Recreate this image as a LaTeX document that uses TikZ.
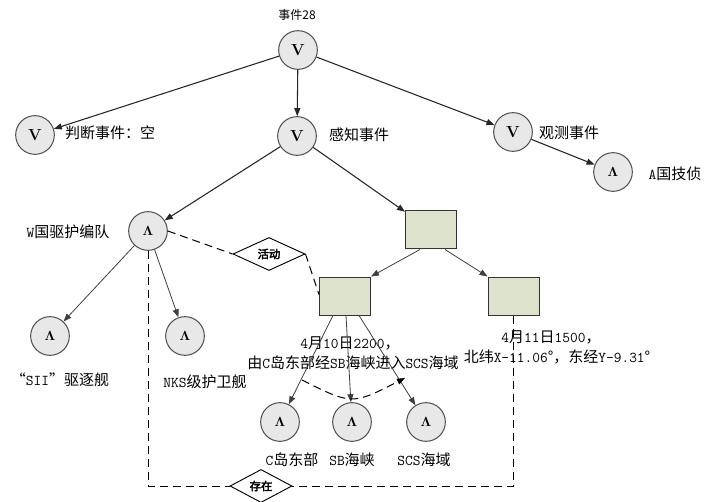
\documentclass[tikz,border=0pt]{standalone}
\usepackage[no-math]{fontspec}
\setmainfont{Noto Sans CJK SC}
\newfontfamily\cjkb[FakeBold=3]{Noto Sans CJK SC}
\usetikzlibrary{arrows.meta,shapes.geometric,calc}
\newcommand{\lt}[1]{{\ttfamily #1}}
\definecolor{boxfill}{HTML}{DDE2CC}
\definecolor{evfill}{HTML}{E8E8E8}
\begin{document}
\begin{tikzpicture}[x=0.75pt,y=-0.75pt,
  font=\fontsize{11.25}{13}\selectfont,
  evt/.style={circle, draw=black!70, fill=evfill, minimum size=29pt, inner sep=0pt, line width=0.75pt},
  box/.style={rectangle, draw=black!80, fill=boxfill, minimum width=38.25pt, minimum height=28.5pt, inner sep=0pt, line width=0.75pt},
  rel/.style={diamond, draw=black, fill=white, inner sep=0pt, line width=0.7pt, font=\cjkb\fontsize{8.5}{9}\selectfont},
  arr/.style={-{Triangle[length=6pt,width=4.5pt]}, draw=black!85, line width=0.8pt},
  thinarr/.style={-{Triangle[length=6pt,width=4.5pt]}, draw=black!75, line width=0.6pt},
  dsh/.style={dash pattern=on 6pt off 3.75pt, draw=black, line width=0.75pt},
  lbl/.style={inner sep=0pt},
  vv/.style={font=\fontsize{13}{13}\selectfont},
  ll/.style={font=\fontsize{10}{10}\selectfont}]
\fill[white] (0,0) rectangle (717,502);
\useasboundingbox (0,0) rectangle (717,502);

% event nodes
\node[evt,vv] (top) at (298,50) {$\mathbf{V}$};
\node[evt,vv] (v1) at (35,135) {$\mathbf{V}$};
\node[evt,vv] (v2) at (297,136) {$\mathbf{V}$};
\node[evt,vv] (v3) at (513,132) {$\mathbf{V}$};
\node[evt,ll] (a) at (613,172) {$\mathbf{\Lambda}$};
\node[evt,ll] (w) at (148,231) {$\mathbf{\Lambda}$};
\node[evt,ll] (sii) at (50,336) {$\mathbf{\Lambda}$};
\node[evt,ll] (nks) at (185,336) {$\mathbf{\Lambda}$};
\node[evt,ll] (cd) at (280,422) {$\mathbf{\Lambda}$};
\node[evt,ll] (sb) at (352,422) {$\mathbf{\Lambda}$};
\node[evt,ll] (scs) at (426,422) {$\mathbf{\Lambda}$};

% boxes
\node[box] (r1) at (431,230) {};
\node[box] (r2) at (345,296) {};
\node[box] (r3) at (513.5,296) {};

% relation diamonds
\node[rel, minimum width=54pt, minimum height=23.25pt] (act) at (269,254) {活动};
\node[rel, minimum width=46.5pt, minimum height=21pt] (ex) at (261,486) {存在};

% labels
\node[lbl] (l28) at (297,15) {\fontsize{9}{10}\selectfont 事件28};
\node[lbl] (l1) at (110,133) {判断事件：空};
\node[lbl] (l2) at (359,135) {感知事件};
\node[lbl] (l3) at (569,133) {观测事件};
\node[lbl] (la) at (675,174) {\lt{A}国技侦};
\node[lbl] (lw) at (68,232) {\lt{W}国驱护编队};
\node[lbl] (lsii) at (60,380) {“\lt{SII}”驱逐舰};
\node[lbl] (lnks) at (205,382) {\lt{NKS}级护卫舰};
\node[lbl] (t1) at (350,343) {\lt{4}月\lt{10}日\lt{2200}，};
\node[lbl] (t2) at (353,363) {由\lt{C}岛东部经\lt{SB}海峡进入\lt{SCS}海域};
\node[lbl] (t3) at (551,337) {\lt{4}月\lt{11}日\lt{1500}，};
\node[lbl] (t4) at (557,357) {北纬\lt{X-11.06}°，东经\lt{Y-9.31}°};
\node[lbl] (lcd) at (292,460) {\lt{C}岛东部};
\node[lbl] (lsb) at (352,460) {\lt{SB}海峡};
\node[lbl] (lscs) at (424,460) {\lt{SCS}海域};

% solid connectors
\draw[arr] (top) -- (v1);
\draw[arr] (top) -- (v2);
\draw[arr] (top) -- (v3);
\draw[arr] (v3) -- (a);
\draw[arr] (v2) -- (w);
\draw[arr] (v2) -- (r1);
\draw[thinarr] ($(r1.south)+(-11,0)$) -- (r2.north east);
\draw[thinarr] ($(r1.south)+(14,0)$) -- (r3.north west);
\draw[thinarr] (w) -- (sii);
\draw[thinarr] (w) -- (nks);
\draw[thinarr] ($(r2.south west)+(14,0)$) -- (cd);
\draw[thinarr] ($(r2.south west)+(27,0)$) -- (sb);
\draw[thinarr] ($(r2.south west)+(40,0)$) -- (scs);

% dashed connectors
\draw[dsh] (w.east) -- (act.west);
\draw[dsh] (act.east) -- ($(r2.north west)+(0,18)$);
\draw[dsh] (w.south) |- (ex.west);
\draw[dsh] (r3.south) |- (ex.east);
\coordinate (as) at (302,380);
\coordinate (ae) at (405,378);
\draw[dsh,-{Triangle[length=6pt,width=4.5pt]}] (as) .. controls (352,405) .. (ae);
\end{tikzpicture}
\end{document}
